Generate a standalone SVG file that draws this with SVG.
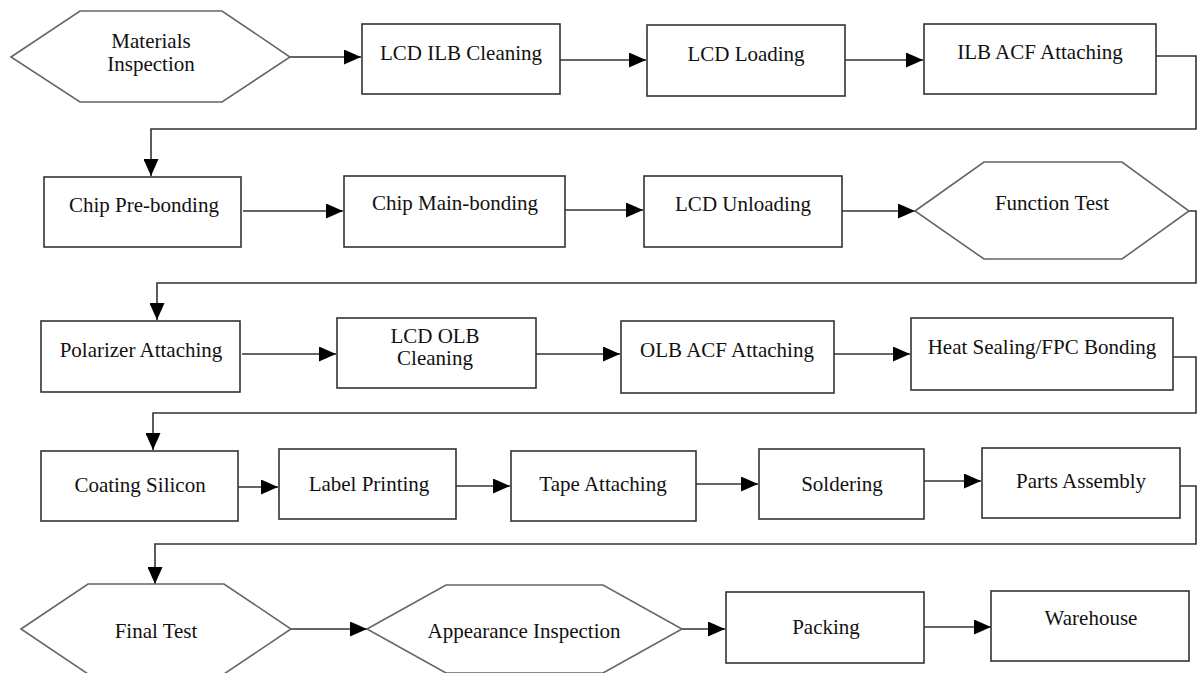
<svg xmlns="http://www.w3.org/2000/svg" width="1197" height="673" viewBox="0 0 1197 673">
<style>
.b{fill:#fff;stroke:#333;stroke-width:1.6}
.h{fill:#fff;stroke:#666;stroke-width:1.6}
.c{fill:none;stroke:#333;stroke-width:1.6}
text{font-family:"Liberation Serif","Times New Roman",serif;font-size:21px;fill:#111;text-anchor:middle}
</style>
<defs>
<marker id="a" markerUnits="userSpaceOnUse" markerWidth="17" markerHeight="15" refX="17" refY="7.5" orient="auto">
<path d="M0,0 L17,7.5 L0,15 Z" fill="#000"/>
</marker>
</defs>
<rect width="1197" height="673" fill="#fff"/>
<g id="connectors">
<path class="c" d="M290,57 H361" marker-end="url(#a)"/>
<path class="c" d="M560,60 H646" marker-end="url(#a)"/>
<path class="c" d="M845,60 H923" marker-end="url(#a)"/>
<path class="c" d="M1156,56 H1196 V129 H151 V176" marker-end="url(#a)"/>
<path class="c" d="M243,211 H343" marker-end="url(#a)"/>
<path class="c" d="M565,210 H643" marker-end="url(#a)"/>
<path class="c" d="M842,211 H915" marker-end="url(#a)"/>
<path class="c" d="M1189,211 H1196 V283 H157 V320" marker-end="url(#a)"/>
<path class="c" d="M242,354 H336" marker-end="url(#a)"/>
<path class="c" d="M536,354 H620" marker-end="url(#a)"/>
<path class="c" d="M834,354 H910" marker-end="url(#a)"/>
<path class="c" d="M1173,357 H1196 V413 H153 V450" marker-end="url(#a)"/>
<path class="c" d="M238,487 H278" marker-end="url(#a)"/>
<path class="c" d="M456,486 H510" marker-end="url(#a)"/>
<path class="c" d="M696,484 H758" marker-end="url(#a)"/>
<path class="c" d="M924,481 H981" marker-end="url(#a)"/>
<path class="c" d="M1180,486 H1196 V544 H155 V584" marker-end="url(#a)"/>
<path class="c" d="M291,629 H367" marker-end="url(#a)"/>
<path class="c" d="M682,629 H725" marker-end="url(#a)"/>
<path class="c" d="M924,627 H991" marker-end="url(#a)"/>
</g>
<g id="n1"><polygon class="h" points="11,57 80,11 222,11 290,57 222,102 80,102"/><text x="151" y="48">Materials</text><text x="151" y="71">Inspection</text></g>
<g id="n2"><rect class="b" x="362" y="24" width="198" height="70"/><text x="461" y="60">LCD ILB Cleaning</text></g>
<g id="n3"><rect class="b" x="647" y="25" width="198" height="71"/><text x="746" y="61">LCD Loading</text></g>
<g id="n4"><rect class="b" x="924" y="24" width="232" height="70"/><text x="1040" y="59">ILB ACF Attaching</text></g>
<g id="n5"><rect class="b" x="44" y="177" width="197" height="70"/><text x="144" y="212">Chip Pre-bonding</text></g>
<g id="n6"><rect class="b" x="344" y="176" width="221" height="71"/><text x="455" y="210">Chip Main-bonding</text></g>
<g id="n7"><rect class="b" x="644" y="176" width="198" height="71"/><text x="743" y="211">LCD Unloading</text></g>
<g id="n8"><polygon class="h" points="915,211 984,162 1122,162 1189,211 1122,259 984,259"/><text x="1052" y="210">Function Test</text></g>
<g id="n9"><rect class="b" x="41" y="321" width="199" height="71"/><text x="141" y="357">Polarizer Attaching</text></g>
<g id="n10"><rect class="b" x="337" y="318" width="199" height="70"/><text x="435" y="343">LCD OLB</text><text x="435" y="365">Cleaning</text></g>
<g id="n11"><rect class="b" x="621" y="321" width="213" height="72"/><text x="727" y="357">OLB ACF Attaching</text></g>
<g id="n12"><rect class="b" x="911" y="318" width="262" height="72"/><text x="1042" y="354">Heat Sealing/FPC Bonding</text></g>
<g id="n13"><rect class="b" x="41" y="451" width="197" height="70"/><text x="140" y="492">Coating Silicon</text></g>
<g id="n14"><rect class="b" x="279" y="449" width="177" height="70"/><text x="369" y="491">Label Printing</text></g>
<g id="n15"><rect class="b" x="511" y="451" width="185" height="70"/><text x="603" y="491">Tape Attaching</text></g>
<g id="n16"><rect class="b" x="759" y="449" width="165" height="70"/><text x="842" y="491">Soldering</text></g>
<g id="n17"><rect class="b" x="982" y="448" width="198" height="70"/><text x="1081" y="488">Parts Assembly</text></g>
<g id="n18"><polygon class="h" points="21,629 88,584 224,584 291,629 224,674 88,674"/><text x="156" y="638">Final Test</text></g>
<g id="n19"><polygon class="h" points="367,629 446,585 603,585 682,629 603,673 446,673"/><text x="524" y="638">Appearance Inspection</text></g>
<g id="n20"><rect class="b" x="726" y="592" width="198" height="71"/><text x="826" y="634">Packing</text></g>
<g id="n21"><rect class="b" x="991" y="591" width="198" height="70"/><text x="1091" y="625">Warehouse</text></g>
</svg>
